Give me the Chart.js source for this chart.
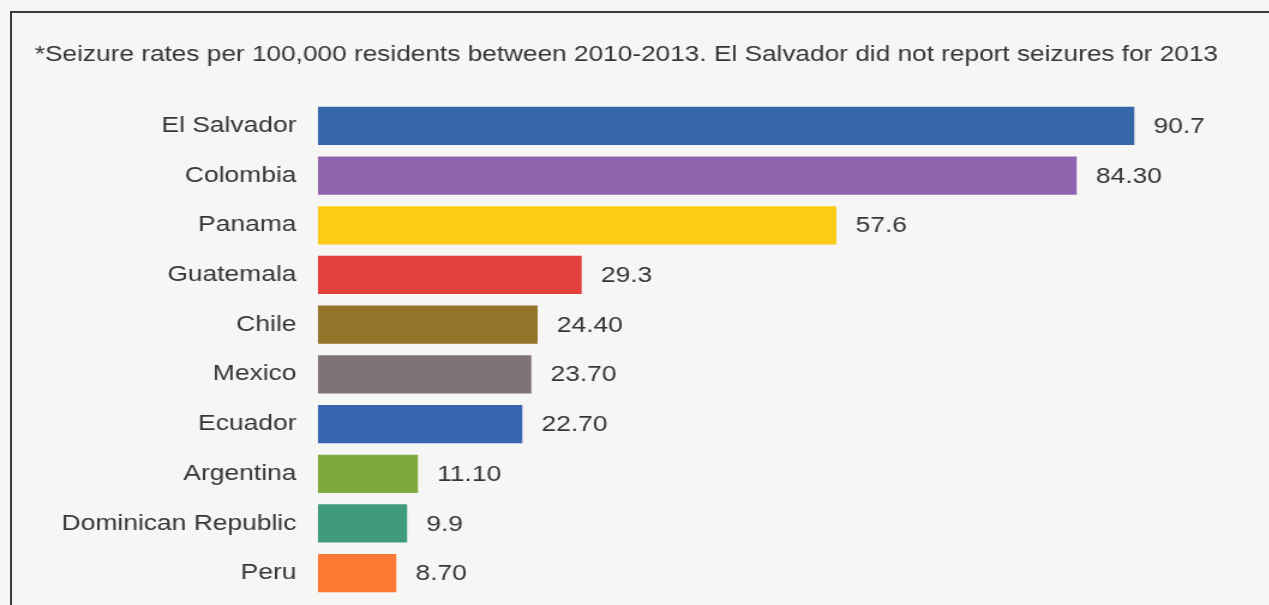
<!DOCTYPE html>
<html>

<head>
    <meta charset="UTF-8">
    <title>Seizure rates</title>
    <script src="https://cdn.jsdelivr.net/npm/chart.js@4.4.1/dist/chart.umd.min.js"></script>
    <style>
        html, body { margin: 0; padding: 0; background: #f6f6f4; overflow: hidden; }
        #frame { position: absolute; left: 10px; top: 11px; width: 1300px; height: 700px;
                 border-left: 2px solid #3a3a3a; border-top: 2px solid #3a3a3a; }
        /* the scan is stretched sideways, so the whole canvas is too */
        #stretch { position: absolute; left: 0; top: 0; transform: scaleX(1.2); transform-origin: 0 0; }
    </style>
</head>

<body>
    <div id="frame"></div>
    <div id="stretch"><canvas id="chart" width="1058" height="605"></canvas></div>
    <script>
        const countries = ['El Salvador', 'Colombia', 'Panama', 'Guatemala', 'Chile', 'Mexico',
            'Ecuador', 'Argentina', 'Dominican Republic', 'Peru'];
        const rates = [90.7, 84.3, 57.6, 29.3, 24.4, 23.7, 22.7, 11.1, 9.9, 8.7];
        const rateLabels = ['90.7', '84.30', '57.6', '29.3', '24.40', '23.70', '22.70', '11.10', '9.9', '8.70'];
        const barColors = ['#3567a8', '#8f63ae', '#fdca16', '#e33f3b', '#94732b', '#807377',
            '#3565ad', '#7fa83f', '#3f9b7b', '#fb7933'];
        const titleText = '*Seizure rates per 100,000 residents between 2010-2013. El Salvador did not report seizures for 2013';

        const textColor = '#37333b';
        const fontFamily = '"Liberation Sans", Arial, sans-serif';

        // numbers at the end of each bar
        const valueLabels = {
            id: 'valueLabels',
            afterDatasetsDraw(chart) {
                const ctx = chart.ctx;
                const meta = chart.getDatasetMeta(0);
                ctx.save();
                ctx.font = '22px ' + fontFamily;
                ctx.fillStyle = textColor;
                ctx.textBaseline = 'middle';
                meta.data.forEach((bar, i) => {
                    ctx.fillText(rateLabels[i], bar.x + 16, bar.y + 1);
                });
                ctx.restore();
            }
        };

        let ctx = document.getElementById('chart').getContext('2d');
        let chart = new Chart(ctx, {
            type: 'bar',
            data: {
                labels: countries,
                datasets: [{
                    data: rates,
                    backgroundColor: barColors,
                    borderWidth: 0,
                    barPercentage: 0.77,
                    categoryPercentage: 1
                }]
            },
            options: {
                indexAxis: 'y',
                responsive: false,
                animation: false,
                layout: { padding: { left: 29, right: 43, top: 0, bottom: 7 } },
                plugins: {
                    legend: { display: false },
                    tooltip: { enabled: false },
                    title: {
                        display: true,
                        text: titleText,
                        align: 'start',
                        color: textColor,
                        font: { family: fontFamily, size: 22.55, weight: 'normal', lineHeight: 1.2 },
                        padding: { top: 41, bottom: 33 }
                    }
                },
                scales: {
                    x: { display: false, min: 0, max: 100 },
                    y: {
                        grid: { display: false },
                        border: { display: false },
                        ticks: {
                            color: textColor,
                            padding: 10,
                            font: { family: fontFamily, size: 22 }
                        },
                        afterFit(scale) {
                            scale.width = 236;
                            // keep the tick padding from pushing the plot area up
                            scale.paddingTop = 0;
                            scale.paddingBottom = 0;
                        }
                    }
                }
            },
            plugins: [valueLabels]
        });
    </script>
</body>

</html>
